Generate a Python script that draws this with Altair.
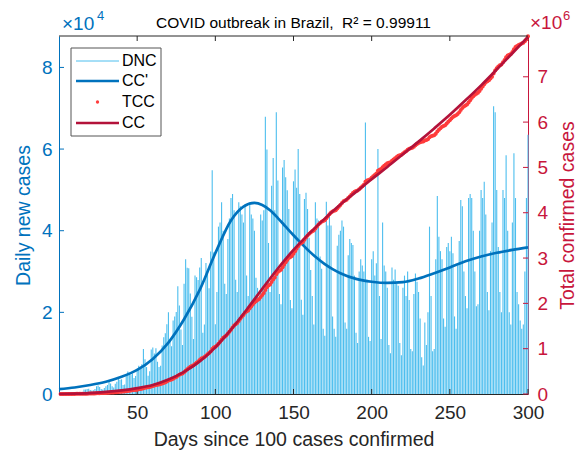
import altair as alt
import pandas as pd
import numpy as np

# ---------------- data ----------------
days = list(range(1, 301))
# daily new cases, thousands
dnc_thousands = [
    0.1, 0.07, 0.12, 0.2, 0.23, 0.3, 0.25,
    0.23, 0.42, 0.5, 0.35, 0.44, 0.5, 0.35,
    0.32, 1.1, 1.1, 1.2, 1.3, 1.0, 0.85,
    0.9, 1.2, 1.9, 2.1, 1.7, 1.2, 1.1,
    1.5, 1.9, 2.2, 3.0, 2.6, 1.9, 1.6,
    2.5, 3.0, 3.7, 3.5, 3.6, 2.2, 2.3,
    4.8, 5.5, 5.0, 4.7, 5.0, 3.9, 4.4,
    6.2, 6.9, 6.6, 7.3, 11.0, 8.5, 6.6,
    4.5, 5.6, 10.9, 11.4, 9.9, 11.2, 7.9,
    6.6, 6.9, 11.9, 13.9, 14.9, 17.1, 20.0,
    13.1, 11.7, 18.0, 19.0, 20.1, 26.4, 21.7,
    15.8, 12.0, 27.0, 33.0, 30.9, 30.8, 24.6,
    18.9, 13.5, 29.0, 28.6, 27.9, 31.0, 33.3,
    15.0, 17.0, 32.1, 30.4, 25.9, 34.9, 54.8,
    34.7, 17.1, 25.0, 41.0, 42.0, 47.0, 40.0,
    27.0, 24.5, 38.0, 43.0, 48.0, 49.0, 45.0,
    28.0, 25.0, 47.0, 46.0, 44.0, 42.0, 46.5,
    29.0, 24.0, 47.0, 44.0, 43.0, 40.0, 28.5,
    26.0, 23.5, 44.0, 42.5, 45.0, 67.9, 59.9,
    37.0, 25.0, 51.0, 57.8, 45.0, 69.0, 52.3,
    24.5, 22.0, 55.5, 57.3, 53.1, 49.9, 45.3,
    23.0, 21.0, 52.1, 55.0, 50.5, 60.0, 49.0,
    23.1, 19.4, 47.8, 49.3, 45.3, 38.3, 30.4,
    24.0, 17.0, 47.0, 43.0, 42.5, 33.7, 30.7,
    16.0, 14.3, 47.1, 41.3, 44.2, 41.3, 19.0,
    16.0, 14.0, 36.3, 39.0, 40.0, 42.5, 41.0,
    17.5, 16.0, 34.0, 38.0, 37.0, 36.5, 29.0,
    15.0, 12.5, 30.0, 33.0, 31.5, 30.0, 66.5,
    28.0, 14.0, 13.0, 33.0, 35.0, 29.0, 32.0,
    60.0, 24.0, 13.5, 42.0, 31.5, 30.0, 26.0,
    12.0, 10.0, 31.0, 28.0, 30.5, 27.0, 26.5,
    12.5, 9.5, 26.0, 29.0, 24.0, 30.0, 23.0,
    11.0, 10.5, 24.5, 29.5, 27.5, 25.0, 18.5,
    9.0, 7.0, 17.5, 12.0, 20.0, 41.0, 24.0,
    10.5, 11.0, 33.0, 48.5, 38.5, 35.0, 33.0,
    18.5, 16.5, 36.0, 37.0, 35.0, 38.5, 34.5,
    19.0, 16.0, 31.5, 37.5, 47.5, 46.0, 30.0,
    24.0, 21.0, 48.0, 49.0, 48.0, 40.0, 30.0,
    21.5, 22.0, 40.0, 50.0, 48.0, 52.0, 44.0,
    25.0, 20.5, 35.0, 42.0, 70.5, 69.0, 50.0,
    36.0, 25.0, 20.0, 50.0, 48.0, 58.5, 40.0,
    20.0, 17.0, 42.0, 59.0, 48.0, 25.0, 22.0,
    18.0, 16.0, 17.0, 30.0, 48.0, 63.5,
]
start_cases = 100

# fitted daily curve CC' (thousands)
ccp_days = [0, 10, 20, 30, 40, 50, 60, 70, 80, 90, 100, 110, 118, 125, 130,
            135, 140, 145, 150, 155, 160, 165, 170, 175, 180, 190, 200, 210, 220,
            230, 240, 250, 260, 270, 280, 290, 300]
ccp_thousands = [1.2, 1.6, 2.2, 3.0, 4.2, 5.9, 8.6, 12.6, 18.3, 25.5, 34.5, 42.5,
                 45.9, 46.8, 46.3, 45.0, 43.1, 41.0, 38.9, 36.9, 35.0, 33.3, 31.8,
                 30.6, 29.6, 28.2, 27.5, 27.2, 27.4, 28.3, 29.6, 31.0, 32.5, 33.7,
                 34.6, 35.3, 35.9]

# fitted cumulative curve CC (millions)
cc_days = list(range(0, 301, 10))
cc_millions = [0.0, 0.007, 0.02, 0.045, 0.08, 0.13, 0.2, 0.32, 0.49, 0.72, 1.03,
               1.42, 1.86, 2.32, 2.77, 3.18, 3.54, 3.87, 4.18, 4.46, 4.74, 5.01,
               5.29, 5.57, 5.86, 6.16, 6.48, 6.81, 7.16, 7.52, 7.88]

x_ticks = [50, 100, 150, 200, 250, 300]
left_ticks = [0, 20000, 40000, 60000, 80000]
right_ticks = [0, 1e6, 2e6, 3e6, 4e6, 5e6, 6e6, 7e6]

legend_labels = ["DNC", "CC'", "TCC", "CC"]
title_text = "COVID outbreak in Brazil,\u00a0\u00a0R\u00b2 = 0.99911"

# ---------------- build ----------------
W, H = 469, 358
FONT = "Liberation Sans"
BLUE = "#0072BD"
BAR = "#4DBEEE"
AXR = "#C8163C"
CCC = "#B3123A"
TCCC = "#FF3B3B"
DARK = "#262626"

dnc = np.array(dnc_thousands) * 1000.0
df = pd.DataFrame({"day": days, "dnc": dnc, "tcc": start_cases + np.cumsum(dnc)})
dfp = pd.DataFrame({"day": ccp_days, "v": np.array(ccp_thousands) * 1000.0})
dfc = pd.DataFrame({"day": cc_days, "v": np.array(cc_millions) * 1e6})
dfx = pd.DataFrame({"t": x_ticks})
dfl = pd.DataFrame({"v": left_ticks})
dfr = pd.DataFrame({"v": right_ticks})
one = pd.DataFrame({"a": [0]})

xs = alt.Scale(domain=[0, 300], nice=False, zero=False, padding=0)
yl = alt.Scale(domain=[0, 87700], nice=False, padding=0)
yr = alt.Scale(domain=[0, 7.9e6], nice=False, padding=0)

xaxis = alt.Axis(values=x_ticks, title="Days since 100 cases confirmed", grid=False,
                 ticks=False, domainColor=DARK, labelColor=DARK, labelFontSize=19,
                 labelPadding=9, labelFont=FONT, titleFont=FONT, titleFontSize=19.5,
                 titleFontWeight="normal", titleColor=DARK, titleX=W / 2, titleY=51,
                 titleBaseline="alphabetic", titleAlign="center", labelFlush=False,
                 labelOverlap=False)
laxis = alt.Axis(values=left_ticks, labelExpr="datum.value / 10000", orient="left",
                 grid=False, ticks=False, domainColor=BLUE, labelColor=BLUE,
                 labelFontSize=19, labelPadding=7, labelFont=FONT, title="Daily new cases",
                 titleFont=FONT, titleColor=BLUE, titleFontSize=19.5, titleFontWeight="normal",
                 titleAngle=270, titleX=-30, titleY=H / 2, titleBaseline="alphabetic",
                 titleAlign="center", labelFlush=False, labelOverlap=False)
raxis = alt.Axis(values=right_ticks, labelExpr="datum.value / 1000000", orient="right",
                 grid=False, ticks=False, domainColor=AXR, labelColor=AXR,
                 labelFontSize=19, labelPadding=9, labelFont=FONT,
                 title="Total confirmed cases", titleFont=FONT, titleColor=AXR,
                 titleFontSize=19.5, titleFontWeight="normal", titleAngle=270, titleX=45,
                 titleY=H / 2, titleBaseline="alphabetic", titleAlign="center",
                 labelFlush=False, labelOverlap=False)

X = lambda f: alt.X(f, scale=xs, axis=xaxis)

bars = alt.Chart(df).mark_bar(size=1.1, color=BAR).encode(
    x=X("day:Q"), y=alt.Y("dnc:Q", scale=yl, axis=laxis))
ccp = alt.Chart(dfp).mark_line(color=BLUE, strokeWidth=2.7, interpolate="monotone").encode(
    x=X("day:Q"), y=alt.Y("v:Q", scale=yl, axis=laxis))
lt = alt.Chart(dfl).mark_rule(color=BLUE, strokeWidth=1).encode(
    y=alt.Y("v:Q", scale=yl, axis=laxis), x=alt.value(0), x2=alt.value(5))
bt = alt.Chart(dfx).mark_rule(color=DARK, strokeWidth=1).encode(
    x=X("t:Q"), y=alt.value(H), y2=alt.value(H - 5))
tt = alt.Chart(dfx).mark_rule(color=DARK, strokeWidth=1).encode(
    x=X("t:Q"), y=alt.value(0), y2=alt.value(5))
left = alt.layer(bars, ccp, lt, bt, tt)

tcc = alt.Chart(df).mark_circle(size=16, color=TCCC, opacity=1).encode(
    x=X("day:Q"), y=alt.Y("tcc:Q", scale=yr, axis=raxis))
cc = alt.Chart(dfc).mark_line(color=CCC, strokeWidth=2.7, interpolate="monotone").encode(
    x=X("day:Q"), y=alt.Y("v:Q", scale=yr, axis=raxis))
rt = alt.Chart(dfr).mark_rule(color=AXR, strokeWidth=1).encode(
    y=alt.Y("v:Q", scale=yr, axis=raxis), x=alt.value(W - 5), x2=alt.value(W))
right = alt.layer(tcc, cc, rt)

base = alt.Chart(one)
top_border = base.mark_rule(color=DARK, strokeWidth=1).encode(
    x=alt.value(0), x2=alt.value(W), y=alt.value(0))
title = base.mark_text(text=title_text, font=FONT, fontSize=15.5, color="black",
                       align="center", baseline="middle").encode(
    x=alt.value(W / 2), y=alt.value(-13))
lexp = base.mark_text(text="\u00d710", font=FONT, fontSize=19, color=BLUE,
                      align="left", baseline="middle").encode(x=alt.value(3), y=alt.value(-12))
lexp2 = base.mark_text(text="4", font=FONT, fontSize=13, color=BLUE,
                       align="left", baseline="middle").encode(x=alt.value(38), y=alt.value(-20))
rexp = base.mark_text(text="\u00d710", font=FONT, fontSize=19, color=AXR,
                      align="left", baseline="middle").encode(x=alt.value(471), y=alt.value(-13))
rexp2 = base.mark_text(text="6", font=FONT, fontSize=13, color=AXR,
                       align="left", baseline="middle").encode(x=alt.value(504), y=alt.value(-20.5))

# legend
box = base.mark_rect(fill="white", stroke="#555555", strokeWidth=1).encode(
    x=alt.value(12), x2=alt.value(102), y=alt.value(12), y2=alt.value(100))
rows_y = [25, 45, 66, 87]
l1 = base.mark_rule(color=BAR, strokeWidth=1).encode(
    x=alt.value(17), x2=alt.value(60), y=alt.value(rows_y[0]))
l2 = base.mark_rule(color=BLUE, strokeWidth=2.7).encode(
    x=alt.value(17), x2=alt.value(60), y=alt.value(rows_y[1]))
l3 = base.mark_circle(size=11, color=TCCC, opacity=1).encode(
    x=alt.value(38.5), y=alt.value(rows_y[2]))
l4 = base.mark_rule(color=CCC, strokeWidth=2.7).encode(
    x=alt.value(17), x2=alt.value(60), y=alt.value(rows_y[3]))
ltexts = [base.mark_text(text=lab, font=FONT, fontSize=16, color="black", align="left",
                         baseline="middle").encode(x=alt.value(63), y=alt.value(yy))
          for lab, yy in zip(legend_labels, rows_y)]

deco = alt.layer(top_border, title, lexp, lexp2, rexp, rexp2, box, l1, l2, l3, l4, *ltexts)

chart = alt.layer(left, right, deco).resolve_scale(y="independent").properties(
    width=W, height=H,
    autosize=alt.AutoSizeParams(type="none"),
    padding={"left": 51, "top": 28, "right": 51, "bottom": 58},
).configure_view(stroke=None)

chart.save("out.html", embed_options={"renderer": "svg", "actions": False})
